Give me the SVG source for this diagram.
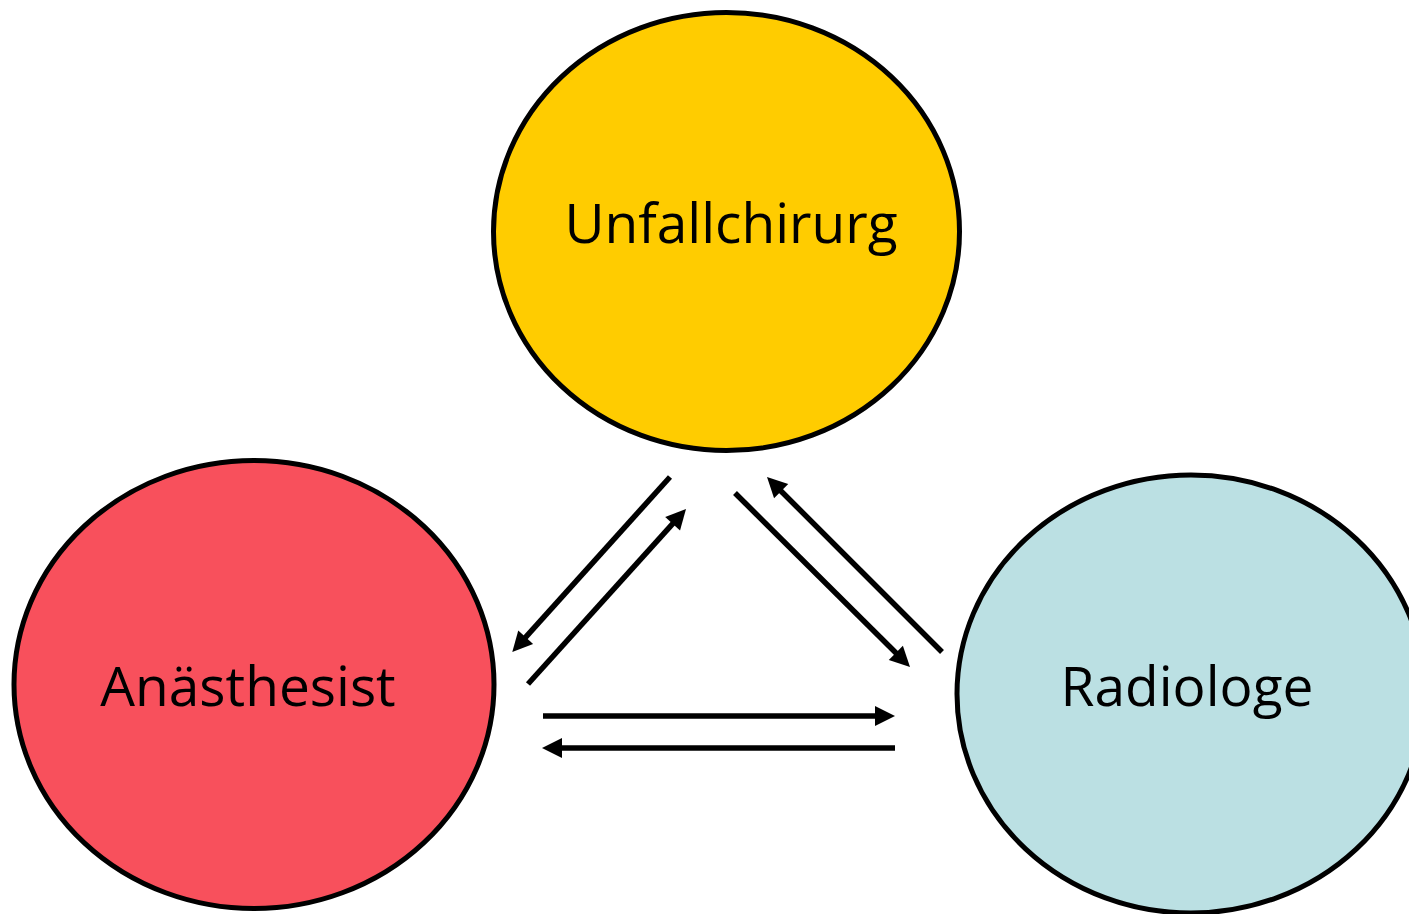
<svg xmlns="http://www.w3.org/2000/svg" width="1409" height="914" viewBox="0 0 1409 914">
<style>
.node{stroke:#000;stroke-width:5}
.lbl{font-family:"Open Sans","Liberation Sans",sans-serif;font-size:55px;fill:#000;text-anchor:middle}
.arr{stroke:#000;stroke-width:5.5;fill:none;marker-end:url(#ah)}
</style>
<defs>
<marker id="ah" viewBox="0 0 21 20" markerUnits="userSpaceOnUse" markerWidth="21" markerHeight="20" refX="7" refY="10" orient="auto" overflow="visible">
<path d="M0,0 L20,10 L0,20 Z" fill="#000"/>
</marker>
</defs>
<rect width="1409" height="914" fill="#fff"/>
<g id="unfallchirurg">
<ellipse class="node" cx="726.5" cy="231.5" rx="233" ry="219" fill="#FFCC00"/>
<text class="lbl" x="731" y="243">Unfallchirurg</text>
</g>
<g id="anaesthesist">
<ellipse class="node" cx="254" cy="684.5" rx="240" ry="224" fill="#F8505C"/>
<text class="lbl" x="248" y="706">Anästhesist</text>
</g>
<g id="radiologe">
<ellipse class="node" cx="1191" cy="694" rx="234" ry="219" fill="#BBE0E3"/>
<text class="lbl" x="1187" y="706">Radiologe</text>
</g>
<g id="connectors">
<line class="arr" x1="670" y1="477" x2="521" y2="642.4"/>
<line class="arr" x1="528" y1="684" x2="677.3" y2="518.6"/>
<line class="arr" x1="735" y1="493" x2="900.8" y2="657.8"/>
<line class="arr" x1="942" y1="652" x2="776.2" y2="486.2"/>
<line class="arr" x1="543" y1="716" x2="882" y2="716"/>
<line class="arr" x1="895" y1="748" x2="555" y2="748"/>
</g>
</svg>
